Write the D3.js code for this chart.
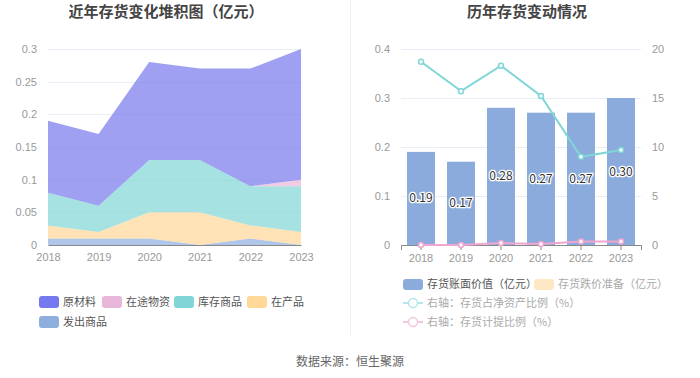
<!DOCTYPE html>
<html>
<head>
<meta charset="utf-8">
<script src="https://cdn.jsdelivr.net/npm/d3@7"></script>
<style>
  body { margin: 0; background: #fff; }
  svg { display: block; font-family: "Noto Sans CJK SC", "Noto Sans", sans-serif; }
</style>
</head>
<body>
<svg id="chart" width="700" height="378"></svg>
<script>
// ---- data ----
const years = ['2018', '2019', '2020', '2021', '2022', '2023'];

// stacked area series (亿元)
const seriesNames = ['原材料', '在途物资', '库存商品', '在产品', '发出商品'];
const seriesColors = ['#7678ed', '#e8b6d8', '#80d6d6', '#ffd797', '#8eaede'];
const rawMaterial = [0.11, 0.11, 0.15, 0.14, 0.18, 0.20];
const inTransit   = [0, 0, 0, 0, 0, 0.01];
const finished    = [0.05, 0.04, 0.08, 0.08, 0.06, 0.07];
const wip         = [0.02, 0.01, 0.04, 0.05, 0.02, 0.02];
const shipped     = [0.01, 0.01, 0.01, 0, 0.01, 0];

// right chart
const bookValue = [0.19, 0.17, 0.28, 0.27, 0.27, 0.30];
const impairment = [0, 0, 0, 0, 0, 0];
const netAssetRatio = [18.7, 15.7, 18.3, 15.2, 9.0, 9.7];
const provisionRatio = [0, 0, 0.2, 0.1, 0.35, 0.35];

const leftTicks = [0, 0.05, 0.1, 0.15, 0.2, 0.25, 0.3];
const rightLeftTicks = [0, 0.1, 0.2, 0.3, 0.4];
const rightRightTicks = [0, 5, 10, 15, 20];

const svg = d3.select('#chart');
const axisColor = '#999';
const gridColor = '#e9edf5';

// titles + divider
svg.append('text').attr('x', 166).attr('y', 17).attr('text-anchor', 'middle')
  .attr('font-size', 15).attr('font-weight', 'bold').attr('fill', '#444')
  .text('近年存货变化堆积图（亿元）');
svg.append('text').attr('x', 527).attr('y', 17).attr('text-anchor', 'middle')
  .attr('font-size', 15).attr('font-weight', 'bold').attr('fill', '#444')
  .text('历年存货变动情况');
svg.append('line').attr('x1', 350.5).attr('x2', 350.5).attr('y1', 0).attr('y2', 335)
  .attr('stroke', '#f0f0f0');

/* ---------- left: stacked area ---------- */
const L = { x0: 48, x1: 301, y0: 245, y1: 49 };
const lx = d3.scalePoint().domain(years).range([L.x0, L.x1]);
const ly = d3.scaleLinear().domain([0, 0.3]).range([L.y0, L.y1]);

const left = svg.append('g');
left.selectAll('.grid').data(leftTicks.slice(1)).join('line')
  .attr('x1', L.x0).attr('x2', L.x1)
  .attr('y1', d => Math.round(ly(d)) + 0.5).attr('y2', d => Math.round(ly(d)) + 0.5)
  .attr('stroke', gridColor);

const rows = years.map((y, i) => ({
  year: y,
  '原材料': rawMaterial[i], '在途物资': inTransit[i], '库存商品': finished[i],
  '在产品': wip[i], '发出商品': shipped[i]
}));
const stackKeys = seriesNames.slice().reverse();
const stacked = d3.stack().keys(stackKeys)(rows);
const area = d3.area()
  .x(d => lx(d.data.year))
  .y0(d => ly(d[0]))
  .y1(d => ly(d[1]));
left.selectAll('.area').data(stacked).join('path')
  .attr('d', area)
  .attr('fill', d => seriesColors[seriesNames.indexOf(d.key)])
  .attr('fill-opacity', 0.7);

left.append('g').attr('transform', `translate(${L.x0 - 8},0)`)
  .call(d3.axisLeft(ly).tickValues(leftTicks).tickSize(0).tickFormat(d3.format('~g')))
  .call(g => g.select('.domain').remove())
  .call(g => g.selectAll('text').attr('fill', axisColor).attr('font-size', 11).attr('font-family', null));

left.append('g').attr('transform', `translate(0,${L.y0})`)
  .call(d3.axisBottom(lx).tickSize(0).tickPadding(8))
  .call(g => g.select('.domain').attr('stroke', '#888'))
  .call(g => g.selectAll('text').attr('fill', axisColor).attr('font-size', 11).attr('font-family', null));

// left legend
const legLayout = [[39, 302], [102, 302], [174, 302], [247, 302], [39, 322]];
seriesNames.forEach((name, i) => {
  const [x, y] = legLayout[i];
  const g = svg.append('g').attr('transform', `translate(${x},${y})`);
  g.append('rect').attr('x', 0).attr('y', -6).attr('width', 20).attr('height', 12)
    .attr('rx', 3).attr('fill', seriesColors[i]);
  g.append('text').attr('x', 24).attr('y', 4).attr('font-size', 11).attr('fill', '#555').text(name);
});

/* ---------- right: bars + lines ---------- */
const R = { x0: 401, x1: 641, y0: 245, y1: 49 };
const rx = d3.scaleBand().domain(years).range([R.x0, R.x1]).paddingInner(0.3).paddingOuter(0.15);
const ryL = d3.scaleLinear().domain([0, 0.4]).range([R.y0, R.y1]);
const ryR = d3.scaleLinear().domain([0, 20]).range([R.y0, R.y1]);
const cx = d => rx(d) + rx.bandwidth() / 2;

const right = svg.append('g');
right.selectAll('.grid').data(rightLeftTicks.slice(1)).join('line')
  .attr('x1', R.x0).attr('x2', R.x1)
  .attr('y1', d => Math.round(ryL(d)) + 0.5).attr('y2', d => Math.round(ryL(d)) + 0.5)
  .attr('stroke', gridColor);

right.selectAll('.bar').data(years).join('rect')
  .attr('x', d => rx(d))
  .attr('width', rx.bandwidth())
  .attr('y', (d, i) => ryL(bookValue[i]))
  .attr('height', (d, i) => R.y0 - ryL(bookValue[i]))
  .attr('fill', '#8aabdb');

right.selectAll('.blabel').data(years).join('text')
  .attr('x', d => cx(d))
  .attr('y', (d, i) => (ryL(bookValue[i]) + R.y0) / 2 + 4)
  .attr('text-anchor', 'middle').attr('font-size', 12)
  .attr('fill', '#333').attr('stroke', '#fff').attr('stroke-width', 2.5)
  .attr('paint-order', 'stroke')
  .text((d, i) => bookValue[i].toFixed(2));

right.append('g').attr('transform', `translate(${R.x0 - 8},0)`)
  .call(d3.axisLeft(ryL).tickValues(rightLeftTicks).tickSize(0).tickFormat(d3.format('~g')))
  .call(g => g.select('.domain').remove())
  .call(g => g.selectAll('text').attr('fill', axisColor).attr('font-size', 11).attr('font-family', null));

right.append('g').attr('transform', `translate(${R.x1 + 8},0)`)
  .call(d3.axisRight(ryR).tickValues(rightRightTicks).tickSize(0))
  .call(g => g.select('.domain').remove())
  .call(g => g.selectAll('text').attr('fill', axisColor).attr('font-size', 11).attr('font-family', null));

right.append('g').attr('transform', `translate(0,${R.y0})`)
  .call(d3.axisBottom(rx).tickSize(5).tickPadding(4))
  .call(g => g.select('.domain').attr('stroke', '#888'))
  .call(g => g.selectAll('.tick line').attr('stroke', '#888'))
  .call(g => g.selectAll('text').attr('fill', axisColor).attr('font-size', 11).attr('font-family', null));

function drawLine(values, color) {
  const line = d3.line().x((d, i) => cx(years[i])).y(d => ryR(d));
  right.append('path').datum(values).attr('d', line)
    .attr('fill', 'none').attr('stroke', color).attr('stroke-width', 2);
  right.selectAll(null).data(values).join('circle')
    .attr('cx', (d, i) => cx(years[i])).attr('cy', d => ryR(d)).attr('r', 2.5)
    .attr('fill', '#fff').attr('stroke', color).attr('stroke-width', 1.5);
}
drawLine(netAssetRatio, '#7fd6d6');
drawLine(provisionRatio, '#f0a6d0');

// right legend
const rLeg = svg.append('g');
const legRect = (x, y, color, label) => {
  rLeg.append('rect').attr('x', x).attr('y', y - 5).attr('width', 20).attr('height', 11)
    .attr('rx', 3).attr('fill', color);
  rLeg.append('text').attr('x', x + 24).attr('y', y + 4).attr('font-size', 11).attr('fill', '#555').text(label);
};
const legLine = (x, y, color, label) => {
  rLeg.append('line').attr('x1', x).attr('x2', x + 20).attr('y1', y).attr('y2', y)
    .attr('stroke', color).attr('stroke-width', 2);
  rLeg.append('circle').attr('cx', x + 10).attr('cy', y).attr('r', 4.5)
    .attr('fill', '#fff').attr('stroke', color).attr('stroke-width', 1.5);
  rLeg.append('text').attr('x', x + 24).attr('y', y + 4).attr('font-size', 11).attr('fill', '#aaa').text(label);
};
legRect(403, 284, '#8aabdb', '存货账面价值（亿元）');
legRect(534, 284, '#fde8c6', '存货跌价准备（亿元）');
rLeg.selectAll('text').filter((d, i) => i === 1).attr('fill', '#aaa');
legLine(403, 303, '#b5e6ea', '右轴：存货占净资产比例（%）');
legLine(403, 322, '#f5c7e0', '右轴：存货计提比例（%）');

// source
svg.append('text').attr('x', 350).attr('y', 366).attr('text-anchor', 'middle')
  .attr('font-size', 12).attr('fill', '#666').text('数据来源：恒生聚源');
</script>
</body>
</html>
